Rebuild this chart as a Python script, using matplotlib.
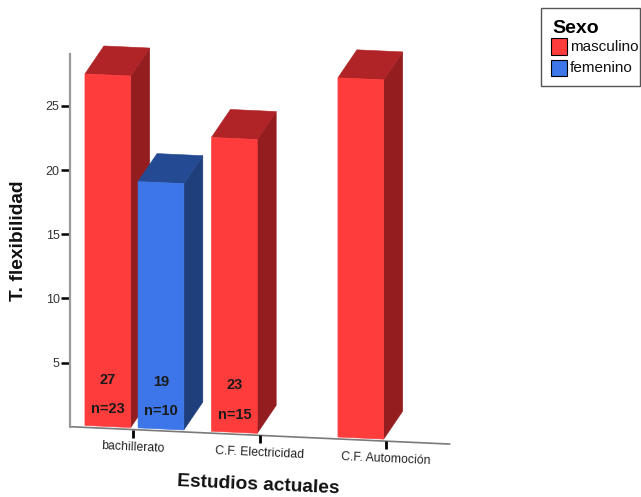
import matplotlib
matplotlib.use("Agg")
import matplotlib.pyplot as plt
from matplotlib.patches import Polygon, Rectangle

plt.rcParams['font.family'] = ['Liberation Sans', 'DejaVu Sans']

# ---- data -------------------------------------------------------------
categories = ["bachillerato", "C.F. Electricidad", "C.F. Automoción"]
series_names = ["masculino", "femenino"]
masculino_means = [27.4, 22.9, 28.0]
femenino_means = [19.2, None, None]
masculino_n = [23, 15, None]
femenino_n = [10, None, None]
yticks = [5, 10, 15, 20, 25]

# face colours per series: front, top, side
face_colors = {
    "masculino": ("#FF3C3C", "#B02326", "#931D1F"),
    "femenino": ("#3C76E8", "#244A94", "#1E3F7B"),
}

# ---- pseudo-3D geometry (in data units) -------------------------------
FLOOR_SLOPE = 0.451      # floor drop (value units) per category step
BASE = 0.15              # bars stand slightly behind the floor's front edge
DX, DY = 0.150, 2.18     # depth offset of the back faces
BAR_W = 0.362
OFFSETS = {"masculino": -0.382, "femenino": 0.038}


def floor_y(x):
    return -FLOOR_SLOPE * (x + 0.5)


def proj(x, v, depth=0.0):
    return (x + depth * DX, floor_y(x) + BASE + v + depth * DY)


fig = plt.figure(figsize=(6.41, 4.97), dpi=100)
W, H = 641, 497
ax = fig.add_axes([70 / W, (H - 426.7) / H, 379.5 / W, (426.7 - 54) / H])
ax.set_xlim(-0.5, 2.5)
ax.set_ylim(0, (426.7 - 54) / 12.83)

for s in ("top", "right", "bottom"):
    ax.spines[s].set_visible(False)
ax.spines["left"].set_color("#9a9a9a")
ax.spines["left"].set_linewidth(1.6)

ax.set_xticks([])
ax.set_yticks(yticks)
ax.tick_params(axis="y", direction="out", length=6.5, width=1.8,
               color="black", labelsize=9, labelcolor="#333333", pad=1.0)

# floor front edge
ax.plot([-0.5, 2.5], [floor_y(-0.5), floor_y(2.5)], color="#7a7a7a",
        lw=1.2, clip_on=False, zorder=1)


def draw_bar(x0, v, colors):
    x1 = x0 + BAR_W
    front, top, side = colors
    fr = [proj(x0, 0), proj(x1, 0), proj(x1, v), proj(x0, v)]
    tp = [proj(x0, v), proj(x1, v), proj(x1, v, 1), proj(x0, v, 1)]
    sd = [proj(x1, 0), proj(x1, v), proj(x1, v, 1), proj(x1, 0, 1)]
    for pts, c in ((sd, side), (tp, top), (fr, front)):
        ax.add_patch(Polygon(pts, closed=True, facecolor=c, edgecolor=c,
                             lw=0.4, clip_on=False, zorder=3))


def draw_labels(x0, v, n):
    xc = x0 + BAR_W / 2
    _, yb = proj(xc, 0)
    ax.text(xc, yb + 3.66, f"{v:.0f}", ha="center", va="center",
            fontsize=10.5, fontweight="bold", color="#1a1a1a", zorder=5)
    ax.text(xc, yb + 1.36, f"n={n}", ha="center", va="center",
            fontsize=10.5, fontweight="bold", color="#1a1a1a", zorder=5)


series = [("masculino", masculino_means, masculino_n),
          ("femenino", femenino_means, femenino_n)]

for i, cat in enumerate(categories):
    for name, means, ns in series:
        v = means[i]
        if v is None:
            continue
        x0 = i + OFFSETS[name]
        draw_bar(x0, v, face_colors[name])
        if ns[i] is not None:
            draw_labels(x0, v, ns[i])

# category ticks and labels along the slanted floor
ANG = -2.6
for i, cat in enumerate(categories):
    yf = floor_y(i)
    ax.plot([i, i], [yf, yf - 0.62], color="black", lw=2.0,
            clip_on=False, zorder=2, solid_capstyle="butt")
    ax.text(i, yf - 1.36, cat, ha="center", va="center", rotation=ANG,
            rotation_mode="anchor", fontsize=8.8, color="#222222")

ax.text(0.986, -4.54, "Estudios actuales", ha="center", va="center",
        rotation=ANG, rotation_mode="anchor", fontsize=13.8,
        fontweight="bold", color="#111111")
ax.text(-0.911, 14.47, "T. flexibilidad", ha="center", va="center",
        rotation=90, fontsize=13.8, fontweight="bold", color="#111111")

# legend box
def fx(px):
    return px / W


def fy(py):
    return (H - py) / H


fig.patches.append(Rectangle((fx(541), fy(86)), fx(640) - fx(541), fy(8.3) - fy(86),
                             transform=fig.transFigure, facecolor="white",
                             edgecolor="#555555", lw=1.0))
fig.text(fx(552), fy(28.5), "Sexo", ha="left", va="center",
         fontsize=14, fontweight="bold", color="black")
for k, name in enumerate(series_names):
    top_px = 38.3 + k * 21.7
    fig.patches.append(Rectangle((fx(551), fy(top_px + 16.3)), fx(566.5) - fx(551),
                                 fy(top_px) - fy(top_px + 16.3),
                                 transform=fig.transFigure,
                                 facecolor=face_colors[name][0],
                                 edgecolor="black", lw=0.8))
    fig.text(fx(570), fy(top_px + 8.5), name, ha="left", va="center",
             fontsize=11, color="#111111")

fig.savefig("out.png", dpi=100)
